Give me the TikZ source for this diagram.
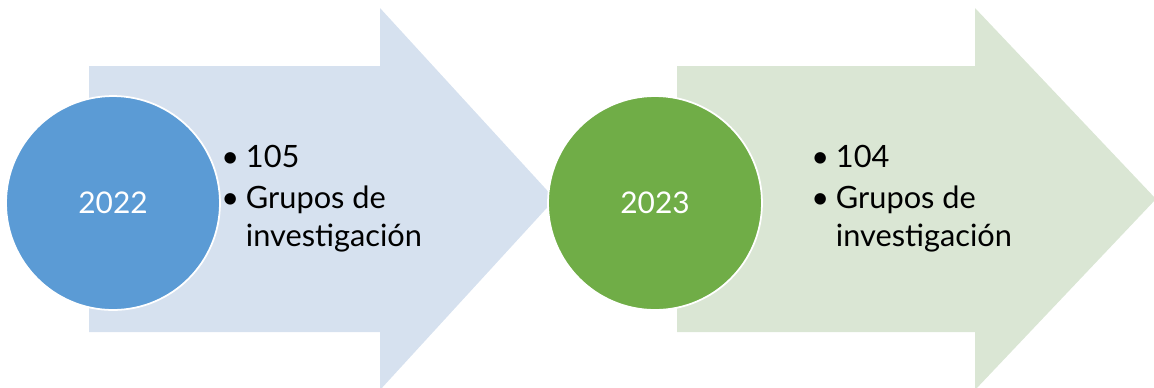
\documentclass[tikz,border=0pt]{standalone}
\usepackage{fontspec}
\setmainfont{Lato}
\usepackage{xcolor}
\usetikzlibrary{positioning}
\definecolor{blueyear}{HTML}{5B9BD5}
\definecolor{bluearrow}{HTML}{D6E1EF}
\definecolor{greenyear}{HTML}{70AD47}
\definecolor{greenarrow}{HTML}{DAE6D4}
\newcommand{\itembul}{\textbullet\hspace{0.22em}}

\begin{document}
\begin{tikzpicture}[x=0.02cm, y=-0.02cm,
  year/.style={draw=white, line width=1pt, circle, minimum size=4.28cm, inner sep=0pt,
    text=white, font=\fontsize{17}{20}\selectfont},
  items/.style={anchor=north west, align=left, inner sep=0pt,
    font=\fontsize{17.5}{21.5}\selectfont}]
\useasboundingbox (0,0) rectangle (1154,387);
% arrows
\fill[bluearrow] (89,66) -- (380,66) -- (380,8) -- (555,199) -- (380,390) -- (380,332) -- (89,332) -- cycle;
\fill[greenarrow] (677,66) -- (975,66) -- (975,8) -- (1156,199) -- (975,390) -- (975,332) -- (677,332) -- cycle;
% years
\node[year, fill=blueyear](y1) at (113,203){2022};
\node[year, fill=greenyear](y2) at (655,203){2023};
% texts
\node[items](t1) at (221,145){\itembul 105\\[2pt] \itembul Grupos de\\ \phantom{\itembul}investigación};
\node[items](t2) at (811,145){\itembul 104\\[2pt] \itembul Grupos de\\ \phantom{\itembul}investigación};
\end{tikzpicture}
\end{document}
